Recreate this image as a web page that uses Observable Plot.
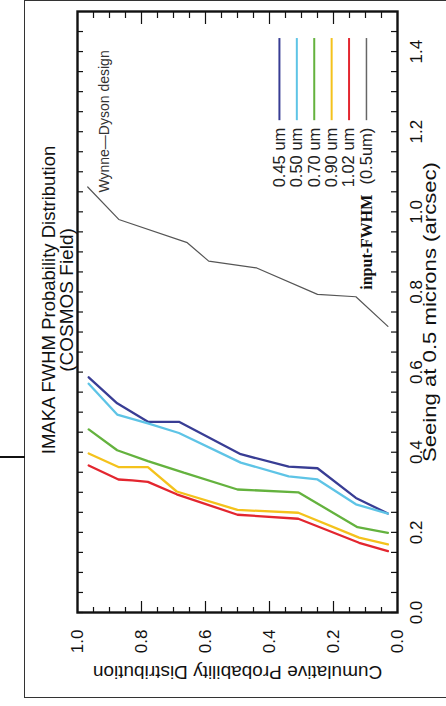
<!DOCTYPE html>
<html><head><meta charset="utf-8">
<script src="https://cdn.jsdelivr.net/npm/d3@7"></script>
<script src="https://cdn.jsdelivr.net/npm/@observablehq/plot@0.6"></script>
<style>
html,body{margin:0;padding:0;background:#fff;width:446px;height:706px;overflow:hidden;}
#rot{position:absolute;left:0;top:0;width:706px;height:446px;transform-origin:0 0;transform:translate(0px,706px) rotate(-90deg);}
#border{position:absolute;left:24px;top:0;width:440px;height:698px;border:1.5px solid #333;box-sizing:border-box;}
#stub{position:absolute;left:0;top:456px;width:25px;height:0;border-top:2px solid #111;}
</style></head><body>
<div id="border"></div><div id="stub"></div>
<div id="rot"></div>
<script>
// Cumulative probability (y) vs seeing at 0.5 microns in arcsec (x)
const prob045 = [0.965, 0.876, 0.78, 0.683, 0.49, 0.34, 0.25, 0.13, 0.03];
const seeing045 = [0.587, 0.522, 0.476, 0.476, 0.395, 0.364, 0.360, 0.286, 0.247];
const prob050 = [0.965, 0.876, 0.78, 0.683, 0.49, 0.34, 0.25, 0.13, 0.03];
const seeing050 = [0.571, 0.494, 0.472, 0.448, 0.374, 0.340, 0.332, 0.270, 0.247];
const prob070 = [0.965, 0.876, 0.78, 0.668, 0.50, 0.31, 0.125, 0.03];
const seeing070 = [0.457, 0.405, 0.378, 0.349, 0.307, 0.300, 0.213, 0.199];
const prob090 = [0.965, 0.872, 0.78, 0.69, 0.50, 0.31, 0.12, 0.03];
const seeing090 = [0.397, 0.363, 0.363, 0.302, 0.256, 0.249, 0.187, 0.170];
const prob102 = [0.965, 0.872, 0.829, 0.78, 0.69, 0.50, 0.31, 0.12, 0.03];
const seeing102 = [0.367, 0.332, 0.330, 0.326, 0.295, 0.244, 0.234, 0.174, 0.153];
const probInput = [0.968, 0.871, 0.657, 0.59, 0.44, 0.25, 0.13, 0.03];
const seeingInput = [1.062, 0.981, 0.923, 0.877, 0.860, 0.794, 0.788, 0.714];

const seriesNames = ["0.45 um", "0.50 um", "0.70 um", "0.90 um", "1.02 um", "(0.5um)"];
const seriesColors = ["#383d94", "#5ec4e6", "#64b23e", "#f4c21c", "#e3262f", "#666666"];
const seeingTickLabels = [0.0, 0.2, 0.4, 0.6, 0.8, 1.0, 1.2, 1.4];
const probTickLabels = [0.0, 0.2, 0.4, 0.6, 0.8, 1.0];
const seeingMinorTicks = [0,0.05,0.1,0.15,0.2,0.25,0.3,0.35,0.4,0.45,0.5,0.55,0.6,0.65,0.7,0.75,0.8,0.85,0.9,0.95,1.0,1.05,1.1,1.15,1.2,1.25,1.3,1.35,1.4,1.45];
const probMinorTicks = [0.05,0.1,0.15,0.25,0.3,0.35,0.45,0.5,0.55,0.65,0.7,0.75,0.85,0.9,0.95];
const probMajorTicks = [0.2, 0.4, 0.6, 0.8];

const titleLines = ["IMAKA FWHM Probability Distribution", "(COSMOS Field)"];
const xLabel = "Seeing at 0.5 microns (arcsec)";
const yLabel = "Cumulative Probability Distribution";
const designNote = "Wynne\u2014Dyson design";
const inputPrefix = "input-FWHM";

const seriesProbs = [prob045, prob050, prob070, prob090, prob102, probInput];
const seriesSeeing = [seeing045, seeing050, seeing070, seeing090, seeing102, seeingInput];
const rows = seriesProbs.flatMap((ps, i) => ps.map((p, j) => ({series: seriesNames[i], idx: i, p, s: seriesSeeing[i][j]})));

const W = 706, H = 446, mL = 93, mR = 12, mT = 77, mB = 49;
const plotW = W - mL - mR, plotH = H - mT - mB;
const ink = "#111";

// legend layout (in data units of the frame)
const legX1 = 1.23, legX2 = 1.435, legLabelX = 1.21, legTop = 0.369, legStep = 0.0544;
const legend = seriesNames.map((name, i) => ({name, i, y: legTop - i * legStep}));

const chart = Plot.plot({
  width: W, height: H,
  marginLeft: mL, marginRight: mR, marginTop: mT, marginBottom: mB,
  style: {fontFamily: "'Liberation Sans', Arial, sans-serif", fontSize: "17px", background: "transparent", color: ink},
  x: {domain: [0, 1.5], axis: null},
  y: {domain: [0, 1], axis: null},
  color: {domain: seriesNames, range: seriesColors},
  marks: [
    // inward ticks on all four sides
    Plot.tickX(seeingMinorTicks, {x: d => d, insetTop: plotH - 6, stroke: ink, strokeWidth: 1.2}),
    Plot.tickX(seeingMinorTicks, {x: d => d, insetBottom: plotH - 6, stroke: ink, strokeWidth: 1.2}),
    Plot.tickY(probMinorTicks, {y: d => d, insetRight: plotW - 6, stroke: ink, strokeWidth: 1.2}),
    Plot.tickY(probMajorTicks, {y: d => d, insetRight: plotW - 12, stroke: ink, strokeWidth: 1.2}),
    Plot.tickY(probMinorTicks, {y: d => d, insetLeft: plotW - 6, stroke: ink, strokeWidth: 1.2}),
    Plot.tickY(probMajorTicks, {y: d => d, insetLeft: plotW - 12, stroke: ink, strokeWidth: 1.2}),
    Plot.axisX(seeingTickLabels, {tickSize: 0, tickPadding: 12, tickFormat: d3.format(".1f"), label: null, fontSize: 17}),
    Plot.axisY(probTickLabels, {tickSize: 0, tickPadding: 17, tickFormat: d3.format(".1f"), label: null, fontSize: 17}),
    // data lines
    Plot.line(rows.filter(d => d.idx < 5), {x: "s", y: "p", z: "series", stroke: "series", strokeWidth: 2.3, strokeLinejoin: "miter"}),
    Plot.line(rows.filter(d => d.idx === 5), {x: "s", y: "p", stroke: "#555", strokeWidth: 1.2}),
    Plot.frame({stroke: ink, strokeWidth: 2.4}),
    // legend
    Plot.ruleY(legend, {y: "y", x1: legX1, x2: legX2, stroke: d => d.name, strokeWidth: d => d.i === 5 ? 1.5 : 2}),
    Plot.text(legend, {x: legLabelX, y: "y", text: "name", textAnchor: "end", fontSize: 16.5, fill: "#222"}),
    Plot.text([inputPrefix], {x: 1.043, y: legTop - 5 * legStep, text: d => d, textAnchor: "end", fontSize: 16, fontWeight: "bold", fontFamily: "'Liberation Serif', 'Times New Roman', serif", fill: "#111"}),
    Plot.text([designNote], {x: 1.048, y: 0.915, text: d => d, textAnchor: "start", fontSize: 14, fill: "#333"}),
    // titles and axis labels
    Plot.text([titleLines[0]], {frameAnchor: "top", dx: 12, dy: -36, text: d => d, fontSize: 18.5, fill: ink}),
    Plot.text([titleLines[1]], {frameAnchor: "top", dx: 12, dy: -18, text: d => d, fontSize: 19, fill: ink}),
    Plot.text([xLabel], {frameAnchor: "bottom", dx: 0, dy: 38, text: d => d, fontSize: 19, fill: ink}),
    Plot.text([yLabel], {frameAnchor: "left", dx: -60, rotate: -90, textAnchor: "middle", text: d => d, fontSize: 19, fill: ink})
  ]
});
// the x-axis label in the reference is drawn elongated along its baseline
d3.select(chart).selectAll("text")
  .filter(function() { return this.textContent === xLabel; })
  .attr("textLength", 300).attr("lengthAdjust", "spacingAndGlyphs");
document.getElementById("rot").appendChild(chart);
</script>
</body></html>
